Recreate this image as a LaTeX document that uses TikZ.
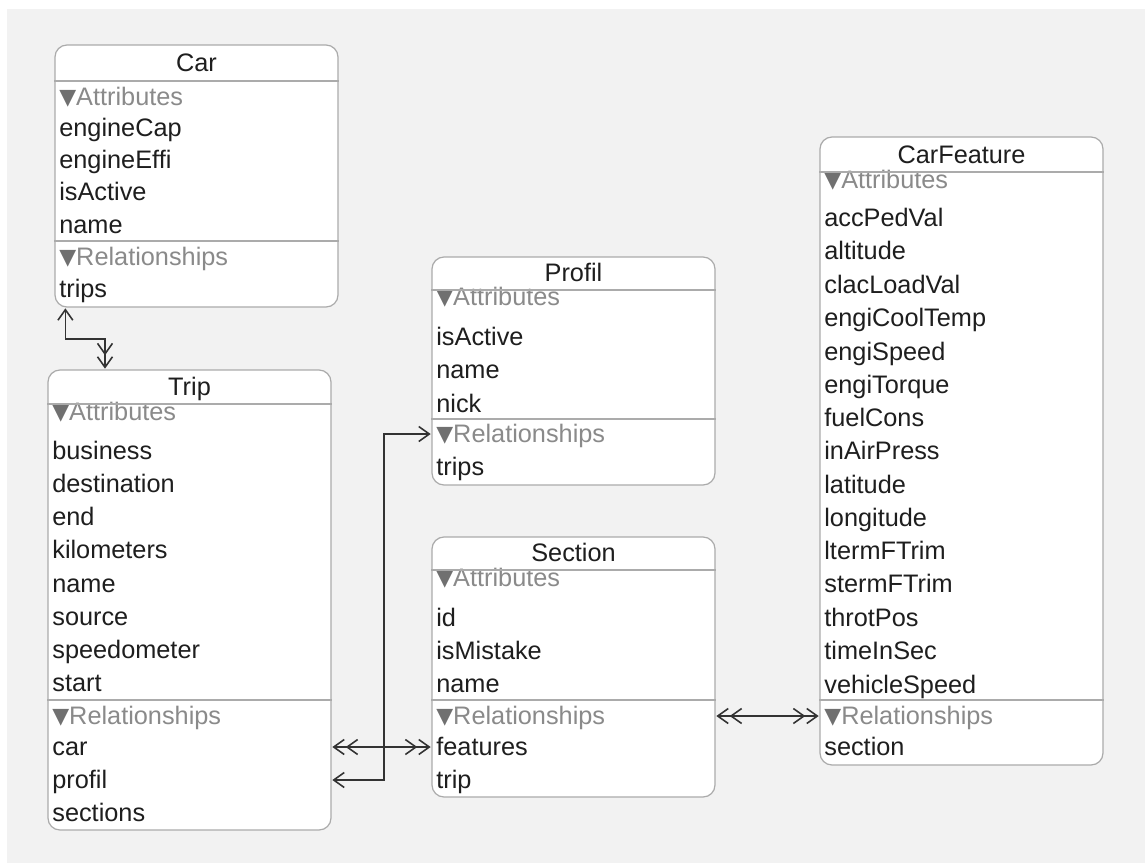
\documentclass[tikz,border=0pt]{standalone}
\usepackage{fontspec}
\setmainfont{Liberation Sans}
\newfontfamily\symfam{DejaVu Sans}
\usetikzlibrary{arrows.meta,fit}

\definecolor{fondo}{HTML}{F2F2F2}
\definecolor{borde}{HTML}{ABABAB}
\definecolor{textoosc}{HTML}{1E1E1E}
\definecolor{textogris}{HTML}{8A8A8A}
\definecolor{trigris}{HTML}{707070}
\definecolor{lineaosc}{HTML}{333333}

\newcommand{\tri}{{\symfam\fontsize{12.5}{12}\selectfont\color{trigris}\raisebox{0.6pt}{▼}}}

\tikzset{
  barb/.tip={Straight Barb[length=6pt,width=8.5pt,sep=0.4pt]}
}

\begin{document}
\begin{tikzpicture}[
            x=0.02cm, y=-0.02cm,
            entidad/.style={draw=borde, line width=0.7pt, fill=white, rounded corners=0.24cm, inner sep=0pt},
            titulo/.style={inner sep=0pt, text height=11.5pt, text depth=2.3pt, font=\fontsize{14.4}{17}\selectfont, text=textoosc},
            fila/.style={anchor=west, inner sep=0pt, text height=11.5pt, text depth=2.3pt, font=\fontsize{14.4}{17}\selectfont, text=textoosc},
            grupo/.style={fila, text=textogris},
            divisor/.style={draw=borde, line width=0.7pt},
            linea/.style={draw=lineaosc, line width=0.9pt}
        ]
        \useasboundingbox (0,0) rectangle (1145,863);
        \fill[white] (0,0) rectangle (1145,863);
        \fill[fondo] (7,9) rectangle (1145,863);

        % --- CAR ---
        \node[entidad, fit={(55,45) (338,307)}] (car) {};
        \node[titulo] (carTitle) at (196.5,63) {Car};
        \node[grupo] (carAttr) at (59,97) {\tri Attributes};
        \node[fila] (carEngineCap) at (59,128) {engineCap};
        \node[fila] (carEngineEffi) at (59,160) {engineEffi};
        \node[fila] (carIsActive) at (59,192) {isActive};
        \node[fila] (carName) at (59,225) {name};
        \node[grupo] (carRel) at (59,257) {\tri Relationships};
        \node[fila] (carTrips) at (59,289) {trips};
        \draw[divisor] (car.west |- 0,81) -- (car.east |- 0,81);
        \draw[divisor] (car.west |- 0,241) -- (car.east |- 0,241);

        % --- TRIP ---
        \node[entidad, fit={(48,370) (331,830)}] (trip) {};
        \node[titulo] (tripTitle) at (189.5,387) {Trip};
        \node[grupo] (tripAttr) at (52,412) {\tri Attributes};
        \node[fila] (tripBusiness) at (52,451) {business};
        \node[fila] (tripDestination) at (52,484) {destination};
        \node[fila] (tripEnd) at (52,517) {end};
        \node[fila] (tripKilometers) at (52,550) {kilometers};
        \node[fila] (tripName) at (52,584) {name};
        \node[fila] (tripSource) at (52,617) {source};
        \node[fila] (tripSpeedometer) at (52,650) {speedometer};
        \node[fila] (tripStart) at (52,683) {start};
        \node[grupo] (tripRel) at (52,716) {\tri Relationships};
        \node[fila] (tripCar) at (52,747) {car};
        \node[fila] (tripProfil) at (52,780) {profil};
        \node[fila] (tripSections) at (52,813) {sections};
        \draw[divisor] (trip.west |- 0,404) -- (trip.east |- 0,404);
        \draw[divisor] (trip.west |- 0,700) -- (trip.east |- 0,700);

        % --- PROFIL ---
        \node[entidad, fit={(432,257) (715,485)}] (profil) {};
        \node[titulo] (profilTitle) at (573.5,273) {Profil};
        \node[grupo] (profilAttr) at (436,297) {\tri Attributes};
        \node[fila] (profilIsActive) at (436,337) {isActive};
        \node[fila] (profilName) at (436,370) {name};
        \node[fila] (profilNick) at (436,404) {nick};
        \node[grupo] (profilRel) at (436,434) {\tri Relationships};
        \node[fila] (profilTrips) at (436,467) {trips};
        \draw[divisor] (profil.west |- 0,290) -- (profil.east |- 0,290);
        \draw[divisor] (profil.west |- 0,419) -- (profil.east |- 0,419);

        % --- SECTION ---
        \node[entidad, fit={(432,537) (715,797)}] (section) {};
        \node[titulo] (sectionTitle) at (573.5,553) {Section};
        \node[grupo] (sectionAttr) at (436,578) {\tri Attributes};
        \node[fila] (sectionId) at (436,618) {id};
        \node[fila] (sectionIsMistake) at (436,651) {isMistake};
        \node[fila] (sectionName) at (436,684) {name};
        \node[grupo] (sectionRel) at (436,716) {\tri Relationships};
        \node[fila] (sectionFeatures) at (436,747) {features};
        \node[fila] (sectionTrip) at (436,780) {trip};
        \draw[divisor] (section.west |- 0,570) -- (section.east |- 0,570);
        \draw[divisor] (section.west |- 0,700) -- (section.east |- 0,700);

        % --- CARFEATURE ---
        \node[entidad, fit={(820,137) (1103,765)}] (feature) {};
        \node[titulo] (featureTitle) at (961.5,155) {CarFeature};
        \node[grupo] (featureAttr) at (824,180) {\tri Attributes};
        \node[fila] (featureAccPedVal) at (824,218) {accPedVal};
        \node[fila] (featureAltitude) at (824,251) {altitude};
        \node[fila] (featureClacLoadVal) at (824,285) {clacLoadVal};
        \node[fila] (featureEngiCoolTemp) at (824,318) {engiCoolTemp};
        \node[fila] (featureEngiSpeed) at (824,352) {engiSpeed};
        \node[fila] (featureEngiTorque) at (824,385) {engiTorque};
        \node[fila] (featureFuelCons) at (824,418) {fuelCons};
        \node[fila] (featureInAirPress) at (824,451) {inAirPress};
        \node[fila] (featureLatitude) at (824,485) {latitude};
        \node[fila] (featureLongitude) at (824,518) {longitude};
        \node[fila] (featureLtermFTrim) at (824,551) {ltermFTrim};
        \node[fila] (featureStermFTrim) at (824,584) {stermFTrim};
        \node[fila] (featureThrotPos) at (824,618) {throtPos};
        \node[fila] (featureTimeInSec) at (824,651) {timeInSec};
        \node[fila] (featureVehicleSpeed) at (824,685) {vehicleSpeed};
        \node[grupo] (featureRel) at (824,716) {\tri Relationships};
        \node[fila] (featureSection) at (824,747) {section};
        \draw[divisor] (feature.west |- 0,172) -- (feature.east |- 0,172);
        \draw[divisor] (feature.west |- 0,700) -- (feature.east |- 0,700);

        % --- RELACIONES ---
        \coordinate (carTripBend) at (105,339);
        \coordinate (profilBend) at (384,434);

        \draw[linea, {barb[]}-{barb[] barb[]}] ([xshift=0.22cm]car.south west) |- (carTripBend) -- (carTripBend |- trip.north);
        \draw[linea, {barb[]}-{barb[]}] (trip.east |- tripProfil) -| (profilBend) -- (profil.west |- profilRel);
        \draw[linea, {barb[] barb[]}-{barb[] barb[]}] (trip.east |- tripCar) -- (section.west |- sectionFeatures);
        \draw[linea, {barb[] barb[]}-{barb[] barb[]}] (section.east |- sectionRel) -- (feature.west |- featureRel);
    \end{tikzpicture}
\end{document}
